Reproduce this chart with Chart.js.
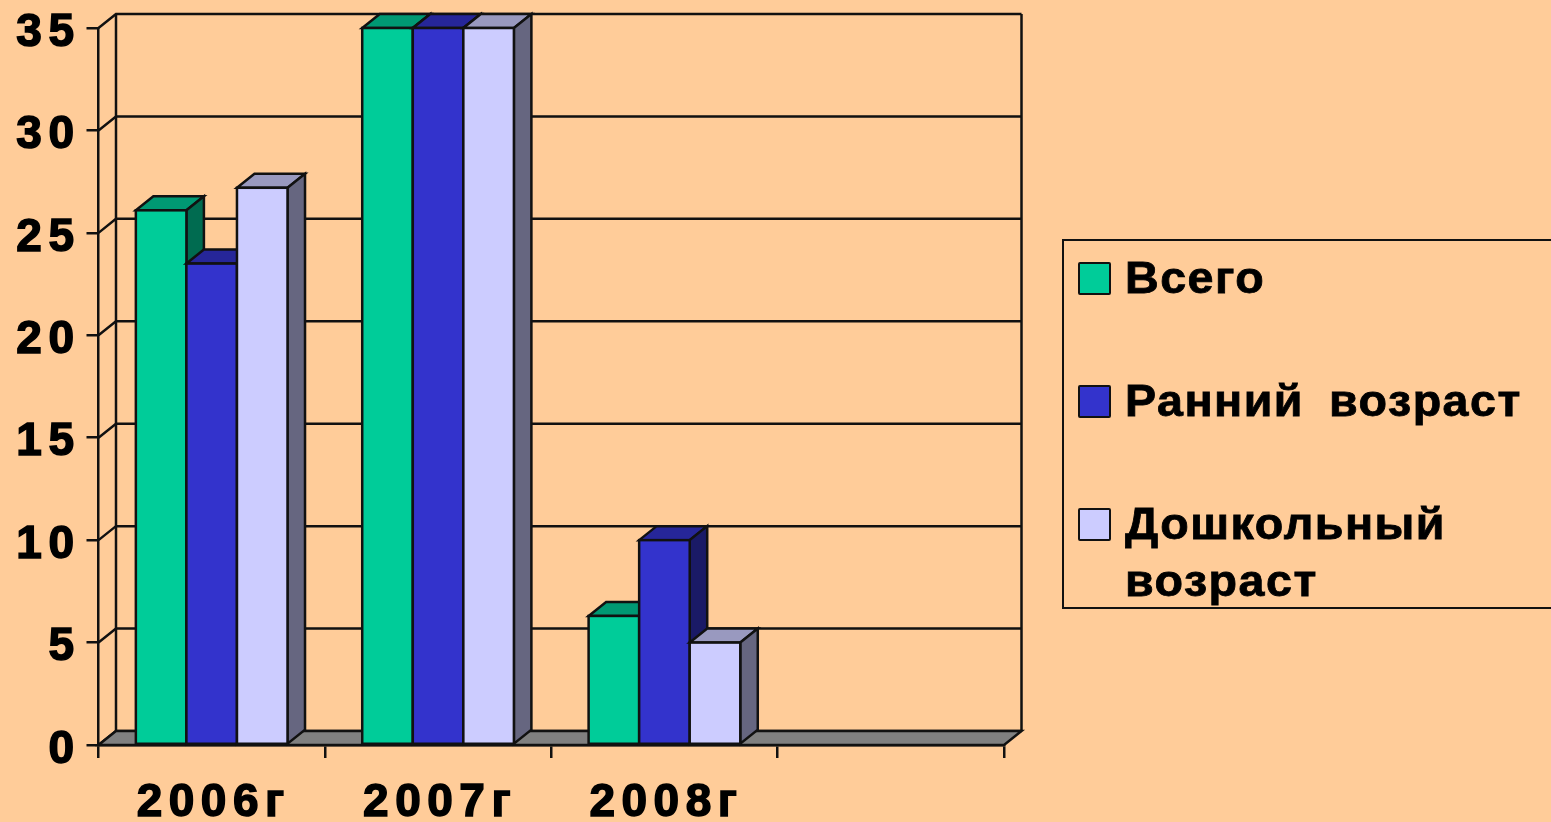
<!DOCTYPE html>
<html lang="ru">
<head>
    <meta charset="UTF-8">
    <title>Диаграмма</title>
    <style>
        html, body { margin: 0; padding: 0; background: #FFCC99; overflow: hidden; }
        #wrap { position: relative; width: 1551px; height: 822px; overflow: hidden; }
        canvas { display: block; }
        #legend {
            position: absolute; left: 1062px; top: 239px; width: 500px; height: 370px;
            border: 2px solid #111; box-sizing: border-box;
            font: bold 44px "Liberation Sans", Arial, sans-serif; letter-spacing: 1.4px; word-spacing: 10px; color: #000;
            -webkit-text-stroke: 0.8px #000;
        }
        .row { position: absolute; left: 14px; }
        .swatch {
            position: absolute; left: 0; top: 5px; width: 33px; height: 33px;
            border: 2px solid #111; box-sizing: border-box; border-radius: 2px;
        }
        .name {
            position: absolute; left: 47px; top: -8px; width: 410px; line-height: 57px;
            transform: scaleX(1.06); transform-origin: left top;
        }
    </style>
</head>
<body>
    <div id="wrap">
        <canvas id="chart" width="1551" height="822"></canvas>
        <div id="legend"></div>
    </div>

    <script src="https://cdn.jsdelivr.net/npm/chart.js"></script>
    <script>
        const categories = ['2006г', '2007г', '2008г', ''];
        const seriesNames = ['Всего', 'Ранний возраст', 'Дошкольный возраст'];
        const vsego = [26.1, 35, 6.3, null];
        const ranniy = [23.5, 35, 10, null];
        const doshkolny = [27.2, 35, 5, null];

        const frontColors = ['#00CC99', '#3333CC', '#CCCCFF'];
        const topColors = ['#009973', '#262699', '#9999BF'];
        const sideColors = ['#006B50', '#1A1A66', '#666680'];

        const LINE = '#111';
        const LINE_W = 2.5;
        const DX = 17.5; // depth of the fake 3d
        const DY = 14;

        function poly(ctx, pts, fill) {
            ctx.beginPath();
            pts.forEach((p, i) => i ? ctx.lineTo(p[0], p[1]) : ctx.moveTo(p[0], p[1]));
            ctx.closePath();
            if (fill) {
                ctx.fillStyle = fill;
                ctx.fill();
            }
            ctx.stroke();
        }

        const fake3d = {
            id: 'fake3d',
            beforeDraw(chart) {
                chart.ctx.letterSpacing = '6.5px';
            },
            beforeDatasetsDraw(chart) {
                const ctx = chart.ctx;
                const a = chart.chartArea;
                const y = chart.scales.y;
                ctx.save();
                ctx.letterSpacing = '0px';
                ctx.strokeStyle = LINE;
                ctx.lineWidth = LINE_W;

                // back wall grid and the slanted lines to the axis
                y.ticks.forEach(t => {
                    const py = y.getPixelForValue(t.value);
                    ctx.beginPath();
                    ctx.moveTo(a.left, py);
                    ctx.lineTo(a.left + DX, py - DY);
                    ctx.lineTo(a.right + DX, py - DY);
                    ctx.stroke();
                });
                ctx.beginPath();
                ctx.moveTo(a.left + DX, a.top - DY);
                ctx.lineTo(a.left + DX, a.bottom - DY);
                ctx.moveTo(a.right + DX, a.top - DY);
                ctx.lineTo(a.right + DX, a.bottom - DY);
                ctx.stroke();

                // floor
                poly(ctx, [[a.left, a.bottom], [a.right, a.bottom],
                           [a.right + DX, a.bottom - DY], [a.left + DX, a.bottom - DY]], '#808080');

                // bars left to right so the neighbours overlap like in the original
                chart.getSortedVisibleDatasetMetas().forEach(meta => {
                    const i = meta.index;
                    meta.data.forEach((bar, n) => {
                        if (chart.data.datasets[i].data[n] === null) return;
                        const p = bar.getProps(['x', 'y', 'base', 'width'], true);
                        const l = p.x - p.width / 2, r = p.x + p.width / 2;
                        poly(ctx, [[l, p.y], [r, p.y], [r + DX, p.y - DY], [l + DX, p.y - DY]], topColors[i]);
                        poly(ctx, [[r, p.y], [r, p.base], [r + DX, p.base - DY], [r + DX, p.y - DY]], sideColors[i]);
                        bar.draw(ctx);
                        ctx.strokeRect(l, p.y, r - l, p.base - p.y);
                    });
                });
                ctx.restore();
                return false;
            }
        };

        const tickFont = { family: '"Liberation Sans", Arial, sans-serif', size: 46, weight: 'bold' };

        new Chart(document.getElementById('chart'), {
            type: 'bar',
            data: {
                labels: categories,
                datasets: [vsego, ranniy, doshkolny].map((values, i) => ({
                    label: seriesNames[i],
                    data: values,
                    backgroundColor: frontColors[i],
                    borderWidth: 0,
                    inflateAmount: 0,
                    barPercentage: 1,
                    categoryPercentage: 0.67
                }))
            },
            options: {
                responsive: false,
                animation: false,
                layout: { padding: { left: 0, top: 28, right: 547, bottom: 0 } },
                plugins: { legend: { display: false }, tooltip: { enabled: false } },
                scales: {
                    x: {
                        afterFit(scale) { scale.height = 77; },
                        border: { color: LINE, width: LINE_W },
                        grid: { drawOnChartArea: false, color: LINE, lineWidth: LINE_W, tickLength: 13 },
                        ticks: {
                            color: '#000', font: tickFont, padding: 18, labelOffset: 2,
                            textStrokeColor: '#000', textStrokeWidth: 1.5,
                            autoSkip: false, maxRotation: 0
                        }
                    },
                    y: {
                        min: 0,
                        max: 35,
                        afterFit(scale) {
                            scale.width = 98.5;
                            scale.paddingTop = 0;
                            scale.paddingBottom = 0;
                        },
                        border: { color: LINE, width: LINE_W },
                        grid: { drawOnChartArea: false, color: LINE, lineWidth: LINE_W, tickLength: 12 },
                        ticks: {
                            color: '#000', font: tickFont, stepSize: 5, padding: 6, labelOffset: 5,
                            textStrokeColor: '#000', textStrokeWidth: 1.5
                        }
                    }
                }
            },
            plugins: [fake3d]
        });

        // legend wraps the long name like the original box
        const legend = document.getElementById('legend');
        seriesNames.forEach((name, i) => {
            const row = document.createElement('div');
            row.className = 'row';
            row.style.top = (16 + i * 123) + 'px';
            row.innerHTML = '<div class="swatch" style="background:' + frontColors[i] + '"></div><div class="name">' + name + '</div>';
            legend.appendChild(row);
        });
    </script>
</body>
</html>
